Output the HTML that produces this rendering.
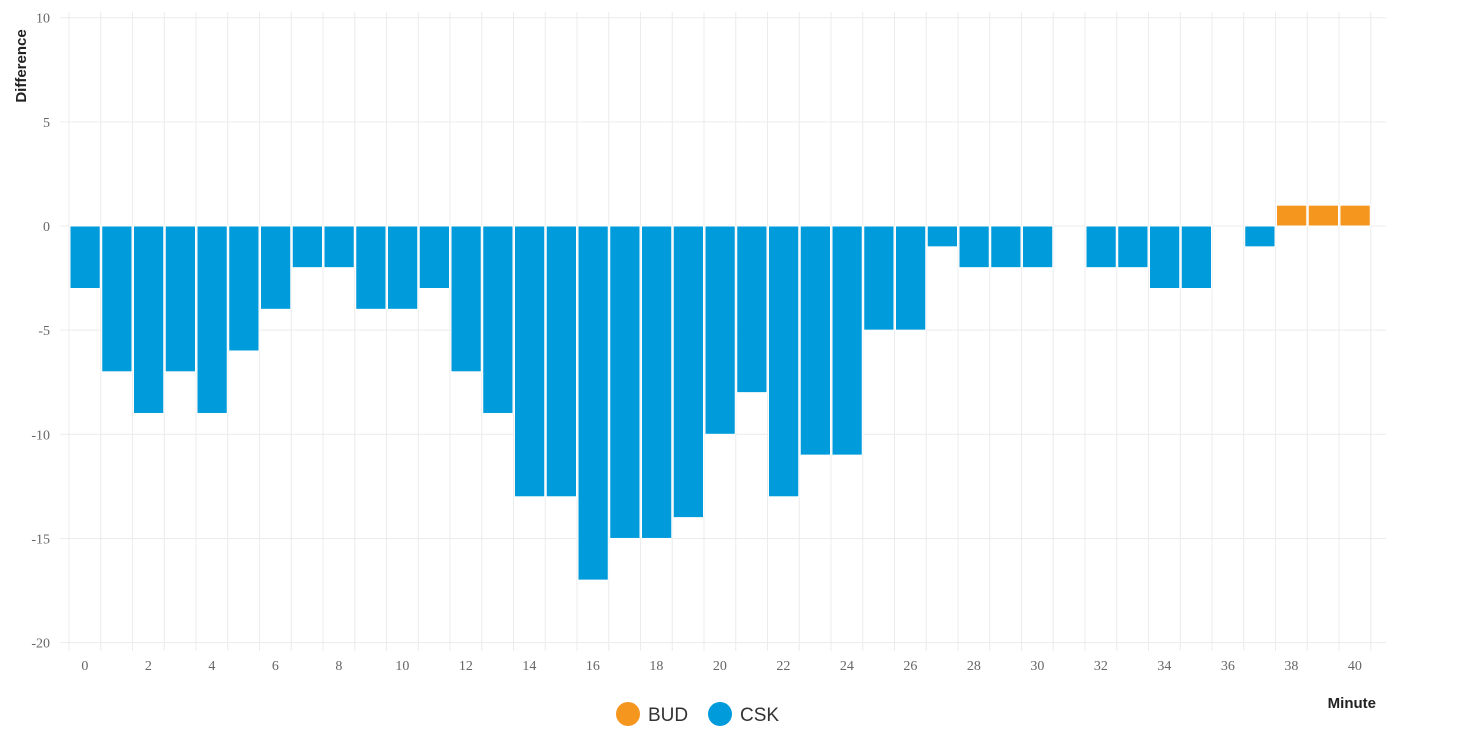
<!DOCTYPE html>
<html><head><meta charset="utf-8"><style>
body{margin:0;background:#fff;}
svg{display:block;font-family:"Liberation Serif",serif;}
</style></head><body>
<svg id="chart" width="1460" height="748"></svg>
<script>
const categories = [0,1,2,3,4,5,6,7,8,9,10,11,12,13,14,15,16,17,18,19,20,21,22,23,24,25,26,27,28,29,30,31,32,33,34,35,36,37,38,39,40];
const cskValues = [-3,-7,-9,-7,-9,-6,-4,-2,-2,-4,-4,-3,-7,-9,-13,-13,-17,-15,-15,-14,-10,-8,-13,-11,-11,-5,-5,-1,-2,-2,-2,null,-2,-2,-3,-3,null,-1,null,null,null];
const budValues = [null,null,null,null,null,null,null,null,null,null,null,null,null,null,null,null,null,null,null,null,null,null,null,null,null,null,null,null,null,null,null,null,null,null,null,null,null,null,1,1,1];
const yTicks = [10,5,0,-5,-10,-15,-20];
const xTickLabels = [0,2,4,6,8,10,12,14,16,18,20,22,24,26,28,30,32,34,36,38,40];

const NS="http://www.w3.org/2000/svg";
const svg=document.getElementById('chart');
const x0=69, bw=31.75;
const y=v=>226-v*20.83;
const bx=i=>x0+i*bw;
function mk(t,a,p){const e=document.createElementNS(NS,t);for(const k in a)e.setAttribute(k,a[k]);(p||svg).appendChild(e);return e;}

// grid
for(let i=0;i<=categories.length;i++){
  const g=mk('line',{x1:bx(i),x2:bx(i),y1:12,y2:651,stroke:'#ececec','stroke-width':1});
  
  
}
yTicks.forEach(v=>{
  const g=mk('line',{x1:60,x2:1386,y1:y(v),y2:y(v),stroke:'#ececec','stroke-width':1});
  
  
  const t=mk('text',{x:50,y:y(v)+5,'text-anchor':'end','font-size':14,fill:'#666'});
  t.textContent=v;
  
  
});
xTickLabels.forEach(c=>{
  const i=categories.indexOf(c);
  const t=mk('text',{x:bx(i)+bw/2,y:670,'text-anchor':'middle','font-size':14,fill:'#666'});
  t.textContent=c;
  
  
});
function bars(vals,color,name){
  vals.forEach((v,i)=>{
    if(v===null)return;
    const top=Math.min(y(v),y(0)),h=Math.abs(y(v)-y(0));
    const r=mk('rect',{x:bx(i)+1,y:top,width:bw-1.5,height:h,fill:color,stroke:'#fff','stroke-width':1});
    
    
  });
}
bars(cskValues,'#009bdb','csk');
bars(budValues,'#f5961e','bud');

const yt=mk('text',{x:0,y:0,transform:'translate(26,66) rotate(-90)','text-anchor':'middle','font-size':15,'font-weight':'bold',fill:'#222','font-family':'Liberation Sans, sans-serif'});
yt.textContent='Difference';


const xt=mk('text',{x:1376,y:708,'text-anchor':'end','font-size':15,'font-weight':'bold',fill:'#222','font-family':'Liberation Sans, sans-serif'});
xt.textContent='Minute';



[['BUD','#f5961e',628],['CSK','#009bdb',720]].forEach(([n,c,cx])=>{
  const g=mk('g',{});
  
  
  mk('circle',{cx:cx,cy:714,r:12,fill:c},g);
  const t=mk('text',{x:cx+20,y:721,'font-size':19,fill:'#333','font-family':'Liberation Sans, sans-serif'},g);
  t.textContent=n;
});
</script>
</body></html>
